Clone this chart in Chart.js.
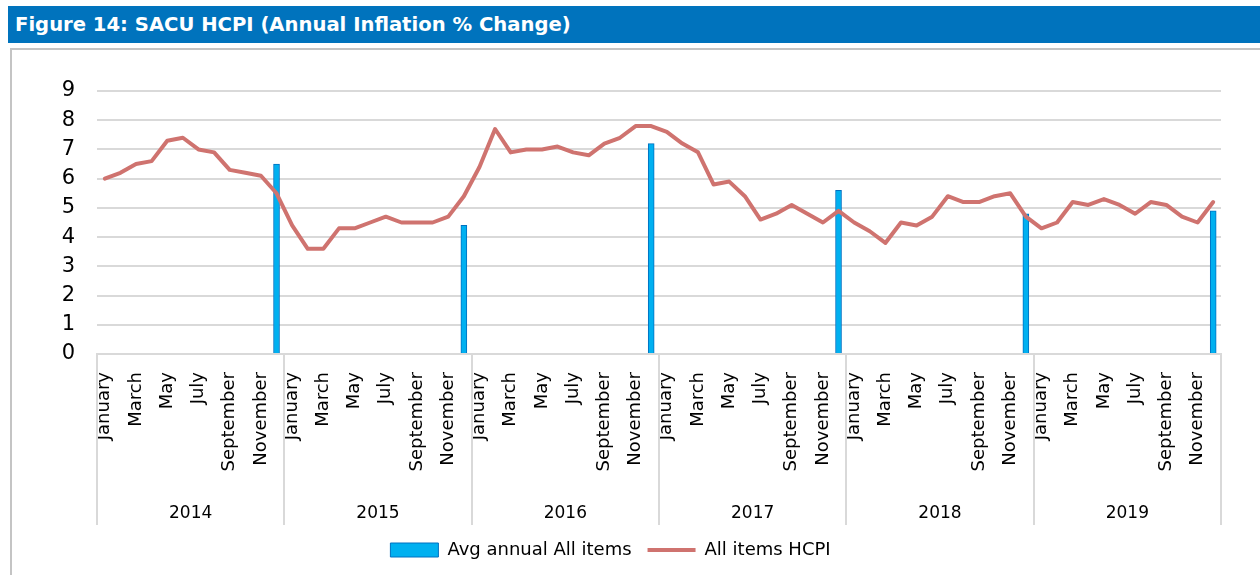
<!DOCTYPE html>
<html>
<head>
<meta charset="utf-8">
<script src="https://cdn.jsdelivr.net/npm/chart.js@4.4.0/dist/chart.umd.min.js"></script>
<style>
  body { margin: 0; background: #fff; }
  #wrap { position: relative; width: 1260px; height: 575px; overflow: hidden; }
  #title {
    position: absolute; left: 8px; top: 6px; width: 1252px; height: 37px;
    background: #0073bd; color: #fff; box-sizing: border-box; padding-left: 7px;
    font: bold 19.6px "DejaVu Sans", sans-serif; line-height: 37px;
  }
  #box {
    position: absolute; left: 10px; top: 48px; width: 1260px; height: 540px;
    border-left: 2px solid #c4c4c4; border-top: 2px solid #c4c4c4;
  }
  canvas { position: absolute; left: 0; top: 0; }
</style>
</head>
<body>
<div id="wrap">
  <div id="title">Figure 14: SACU HCPI (Annual Inflation % Change)</div>
  <div id="box"></div>
  <canvas id="hcpiChart" width="1260" height="575"></canvas>
</div>
<script>
// data
const years = ['2014', '2015', '2016', '2017', '2018', '2019'];
const months = ['January', 'February', 'March', 'April', 'May', 'June',
  'July', 'August', 'September', 'October', 'November', 'December'];

const hcpi2014 = [6.0, 6.2, 6.5, 6.6, 7.3, 7.4, 7.0, 6.9, 6.3, 6.2, 6.1, 5.5];
const hcpi2015 = [4.4, 3.6, 3.6, 4.3, 4.3, 4.5, 4.7, 4.5, 4.5, 4.5, 4.7, 5.4];
const hcpi2016 = [6.4, 7.7, 6.9, 7.0, 7.0, 7.1, 6.9, 6.8, 7.2, 7.4, 7.8, 7.8];
const hcpi2017 = [7.6, 7.2, 6.9, 5.8, 5.9, 5.4, 4.6, 4.8, 5.1, 4.8, 4.5, 4.9];
const hcpi2018 = [4.5, 4.2, 3.8, 4.5, 4.4, 4.7, 5.4, 5.2, 5.2, 5.4, 5.5, 4.7];
const hcpi2019 = [4.3, 4.5, 5.2, 5.1, 5.3, 5.1, 4.8, 5.2, 5.1, 4.7, 4.5, 5.2];

// yearly average, shown on the December slot of each year
const avgAnnual = [6.5, 4.4, 7.2, 5.6, 4.8, 4.9];

const yTicks = [0, 1, 2, 3, 4, 5, 6, 7, 8, 9];

const labels = years.flatMap(() => months);
const hcpi = [].concat(hcpi2014, hcpi2015, hcpi2016, hcpi2017, hcpi2018, hcpi2019);
const avgBars = years.flatMap((y, i) => months.map((m, j) => j === 11 ? avgAnnual[i] : null));

const gridGrey = '#d9d9d9';
const font = '"DejaVu Sans", sans-serif';

// grey lines between the year groups, under the axis
const yearDividers = {
  id: 'yearDividers',
  afterDraw(chart) {
    const x = chart.scales.x;
    const yr = chart.scales.year;
    const ctx = chart.ctx;
    const half = (x.getPixelForValue(1) - x.getPixelForValue(0)) / 2;
    ctx.save();
    ctx.strokeStyle = gridGrey;
    ctx.lineWidth = 2;
    for (let i = 0; i <= years.length; i++) {
      const px = Math.round(x.getPixelForValue(i * 12) - half);
      ctx.beginPath();
      ctx.moveTo(px, chart.chartArea.bottom);
      ctx.lineTo(px, yr.bottom);
      ctx.stroke();
    }
    ctx.restore();
  }
};

const ctx = document.getElementById('hcpiChart').getContext('2d');
new Chart(ctx, {
  data: {
    labels: labels,
    datasets: [{
      type: 'bar',
      label: 'Avg annual All items',
      data: avgBars,
      backgroundColor: '#00b0f0',
      borderColor: '#0070c0',
      borderWidth: 1,
      barThickness: 6,
      pointStyle: 'rect',
      order: 1
    }, {
      type: 'line',
      label: 'All items HCPI',
      data: hcpi,
      borderColor: '#cf736f',
      backgroundColor: '#cf736f',
      borderWidth: 4,
      borderCapStyle: 'round',
      borderJoinStyle: 'round',
      pointRadius: 0,
      tension: 0,
      pointStyle: 'line',
      order: 0
    }]
  },
  options: {
    responsive: false,
    animation: false,
    layout: {
      padding: { top: 91, right: 39, bottom: 6, left: 0 }
    },
    plugins: {
      legend: {
        position: 'bottom',
        labels: {
          usePointStyle: true,
          pointStyleWidth: 48,
          boxHeight: 14,
          padding: 16,
          color: '#000',
          font: { family: font, size: 18 },
          sort: (a, b) => a.datasetIndex - b.datasetIndex
        }
      },
      tooltip: { enabled: false }
    },
    scales: {
      x: {
        type: 'category',
        offset: true,
        grid: { display: false },
        border: { display: true, color: gridGrey, width: 2 },
        ticks: {
          autoSkip: false,
          minRotation: 90,
          maxRotation: 90,
          padding: 10,
          color: '#000',
          font: { family: font, size: 18 },
          callback: function(value, index) {
            return index % 2 === 0 ? this.getLabelForValue(value) : '';
          }
        },
        afterFit: (s) => { s.height = 140; }
      },
      year: {
        type: 'category',
        position: 'bottom',
        labels: years,
        offset: true,
        weight: 1,
        grid: { display: false },
        border: { display: false },
        ticks: {
          padding: 1,
          color: '#000',
          font: { family: font, size: 17 }
        },
        afterFit: (s) => { s.height = 31; }
      },
      y: {
        min: 0,
        max: 9,
        afterBuildTicks: (s) => { s.ticks = yTicks.map(v => ({ value: v })); },
        grid: { color: gridGrey, lineWidth: 2, drawTicks: false },
        border: { display: false },
        ticks: {
          padding: 22,
          color: '#000',
          font: { family: font, size: 21 }
        },
        afterFit: (s) => { s.width = 97; }
      }
    }
  },
  plugins: [yearDividers]
});
</script>
</body>
</html>
